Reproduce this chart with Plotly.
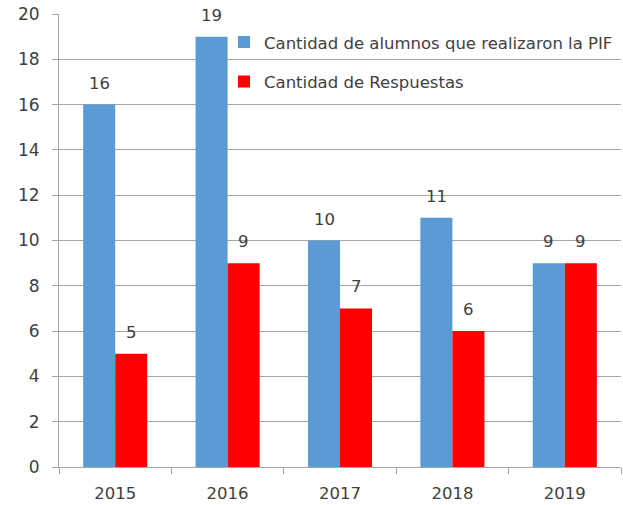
import plotly.graph_objects as go

years = ["2015", "2016", "2017", "2018", "2019"]
alumnos = [16, 19, 10, 11, 9]
respuestas = [5, 9, 7, 6, 9]
name_a = "Cantidad de alumnos que realizaron la PIF"
name_r = "Cantidad de Respuestas"

FONT = "DejaVu Sans, Verdana, sans-serif"
TXT = "#404040"

fig = go.Figure()
fig.add_trace(go.Bar(x=years, y=alumnos, name=name_a, marker_color="#5B9BD5",
                     marker_line_width=0, legendgroup="a"))
fig.add_trace(go.Bar(x=years, y=respuestas, name=name_r, marker_color="#FF0000",
                     marker_line_width=0, legendgroup="r"))

for series, shift in ((alumnos, -16), (respuestas, 16)):
    for i, v in enumerate(series):
        fig.add_annotation(x=i, y=v, text=str(v), showarrow=False, xshift=shift,
                           yanchor="bottom", yshift=10,
                           font=dict(family=FONT, size=16.5, color=TXT))

fig.update_layout(
    width=623, height=505,
    margin=dict(l=59, r=2, t=14, b=38, autoexpand=False),
    paper_bgcolor="white", plot_bgcolor="white",
    font=dict(family=FONT, size=14, color=TXT),
    barmode="group", bargap=0.43, bargroupgap=0,
    showlegend=True,
    legend=dict(x=0.2936, y=0.976, xanchor="left", yanchor="top",
                bgcolor="rgba(0,0,0,0)", font=dict(family=FONT, size=16.5, color=TXT),
                tracegroupgap=15, itemwidth=30, traceorder="grouped"),
)
fig.update_xaxes(type="category", range=[-0.5, len(years) - 0.5], showline=True,
                 linecolor="#A6A6A6", linewidth=1,
                 ticks="outside", tickson="boundaries", tickcolor="#A6A6A6", ticklen=6,
                 ticklabelstandoff=11,
                 showgrid=False, tickangle=0, tickfont=dict(family=FONT, size=16.5, color=TXT))
fig.update_yaxes(range=[0, 20], dtick=2, showline=True, linecolor="#A6A6A6", linewidth=1,
                 ticks="outside", tickcolor="#A6A6A6", ticklen=6, ticklabelstandoff=9,
                 ticklabeloverflow="allow",
                 showgrid=True, gridcolor="#A6A6A6", gridwidth=1, zeroline=False,
                 tickfont=dict(family=FONT, size=17, color=TXT))

fig.write_html("out.html", config={"displayModeBar": False},
               post_script="document.body.style.margin='0';document.body.style.overflow='hidden';")
